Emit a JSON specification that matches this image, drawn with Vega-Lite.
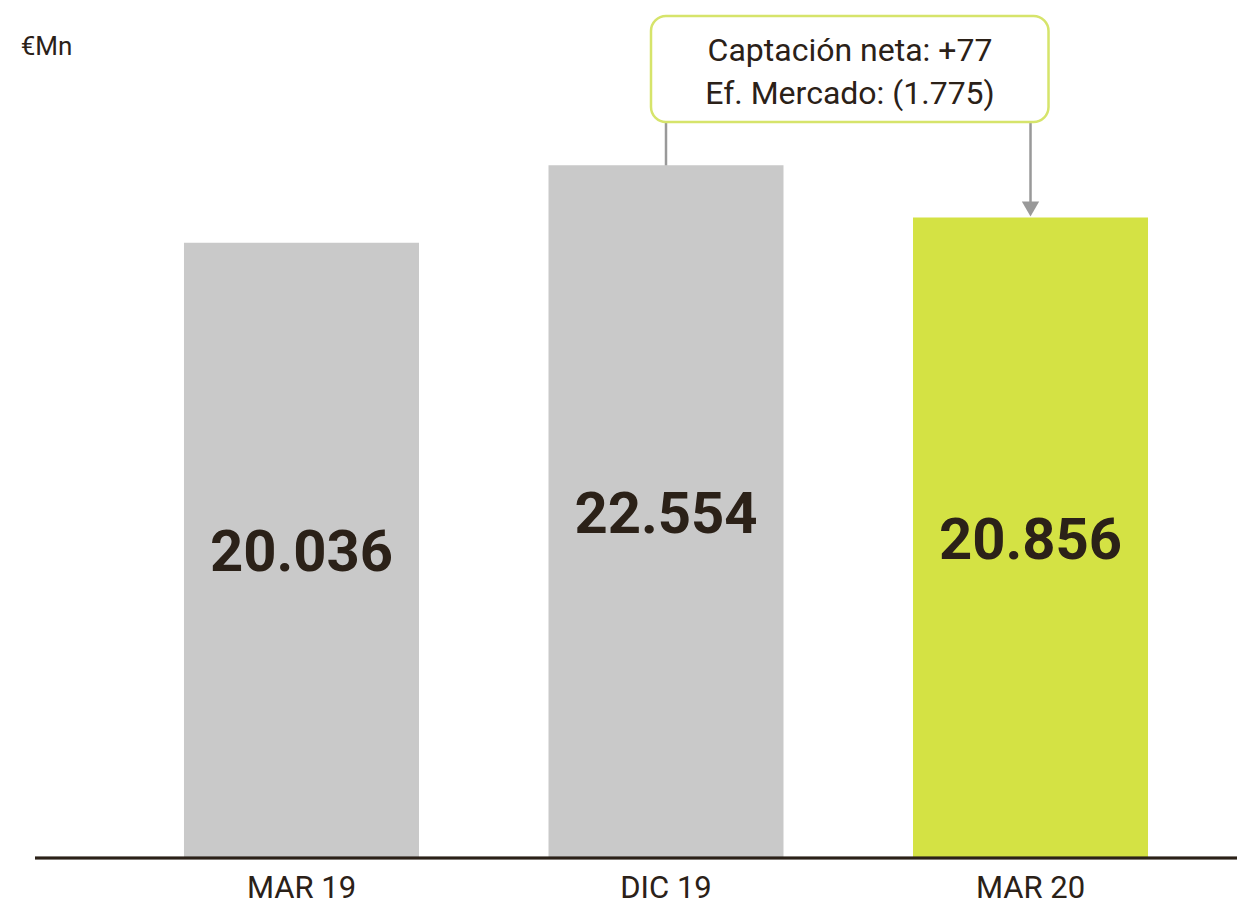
{
  "$schema": "https://vega.github.io/schema/vega-lite/v6.json",
  "width": 1202,
  "height": 758,
  "autosize": {"type": "none"},
  "padding": {"left": 35, "top": 100, "right": 0, "bottom": 51},
  "background": "white",
  "config": {
    "view": {"stroke": null},
    "font": "Roboto",
    "locale": {"number": {"decimal": ",", "thousands": ".", "grouping": [3], "currency": ["", " €"]}}
  },
  "title": {"text": "€Mn", "anchor": "start", "dx": -13, "offset": -66, "baseline": "alphabetic", "fontSize": 26, "fontWeight": "normal", "color": "#2b2118", "font": "Roboto"},
  "datasets": {
    "barras": [
      {"periodo": "MAR 19", "valor": 20036, "tipo": "hist"},
      {"periodo": "DIC 19", "valor": 22554, "tipo": "hist"},
      {"periodo": "MAR 20", "valor": 20856, "tipo": "actual"}
    ],
    "nota": [
      {"desde": "DIC 19", "hasta": "MAR 20", "arriba": 27418, "abajo": 23966}
    ],
    "conectores": [
      {"periodo": "DIC 19", "inicio": 23966, "fin": 22554},
      {"periodo": "MAR 20", "inicio": 23966, "fin": 21264}
    ],
    "flecha": [
      {"periodo": "MAR 20", "punta": 21133}
    ]
  },
  "resolve": {"scale": {"y": "independent"}},
  "layer": [
    {
      "data": {"name": "barras"},
      "mark": {"type": "bar"},
      "encoding": {
        "x": {"field": "periodo", "type": "nominal", "sort": null,
          "scale": {"type": "band", "domain": ["MAR 19", "DIC 19", "MAR 20"], "range": [84.25, 1177.75], "paddingInner": 0.3553, "paddingOuter": 0.1776},
          "axis": {"title": null, "domain": false, "ticks": false, "labelAngle": 0, "labelFontSize": 31, "labelColor": "#2b2118", "labelPadding": 30, "labelFont": "Roboto", "labelBaseline": "middle"}},
        "y": {"field": "valor", "type": "quantitative", "scale": {"domain": [0, 24682], "nice": false, "zero": true}, "axis": null},
        "color": {"field": "tipo", "type": "nominal", "scale": {"domain": ["hist", "actual"], "range": ["#c9c9c9", "#d4e244"]}, "legend": null}
      }
    },
    {
      "data": {"name": "barras"},
      "mark": {"type": "text", "font": "Roboto", "fontWeight": "bold", "fontSize": 58, "color": "#2b2118", "baseline": "middle", "dy": 4},
      "encoding": {
        "x": {"field": "periodo", "type": "nominal", "sort": null},
        "y": {"field": "valor", "type": "quantitative", "scale": {"domain": [0, 49364], "nice": false, "zero": true}, "axis": null},
        "text": {"field": "valor", "type": "quantitative", "format": ",d"}
      }
    },
    {
      "data": {"name": "barras"},
      "mark": {"type": "rule", "color": "#2b2118", "strokeWidth": 2.5},
      "encoding": {
        "y": {"datum": 0, "type": "quantitative", "scale": {"domain": [0, 24682], "nice": false, "zero": true}, "axis": null}
      }
    },
    {
      "data": {"name": "conectores"},
      "mark": {"type": "rule", "color": "#999999", "strokeWidth": 2.5},
      "encoding": {
        "x": {"field": "periodo", "type": "nominal", "sort": null},
        "y": {"field": "inicio", "type": "quantitative", "scale": {"domain": [0, 24682], "nice": false, "zero": true}, "axis": null},
        "y2": {"field": "fin"}
      }
    },
    {
      "data": {"name": "flecha"},
      "mark": {"type": "point", "shape": "triangle-down", "filled": true, "color": "#999999", "size": 300, "opacity": 1},
      "encoding": {
        "x": {"field": "periodo", "type": "nominal", "sort": null},
        "y": {"field": "punta", "type": "quantitative", "scale": {"domain": [0, 24682], "nice": false, "zero": true}, "axis": null}
      }
    },
    {
      "data": {"name": "nota"},
      "mark": {"type": "rect", "fill": "white", "stroke": "#d6e46b", "strokeWidth": 2.5, "cornerRadius": 15, "xOffset": -15, "x2Offset": 18},
      "encoding": {
        "x": {"field": "desde", "type": "nominal", "sort": null, "bandPosition": 0.5},
        "x2": {"field": "hasta"},
        "y": {"field": "arriba", "type": "quantitative", "scale": {"domain": [0, 24682], "nice": false, "zero": true}, "axis": null},
        "y2": {"field": "abajo"}
      }
    },
    {
      "data": {"name": "nota"},
      "mark": {"type": "text", "text": ["Captación neta: +77", "Ef. Mercado: (1.775)"], "font": "Roboto", "fontSize": 32, "color": "#2b2118", "align": "center", "baseline": "top", "dy": 20, "dx": 184, "lineHeight": 43},
      "encoding": {
        "x": {"field": "desde", "type": "nominal", "sort": null},
        "y": {"field": "arriba", "type": "quantitative", "scale": {"domain": [0, 24682], "nice": false, "zero": true}, "axis": null}
      }
    }
  ]
}
